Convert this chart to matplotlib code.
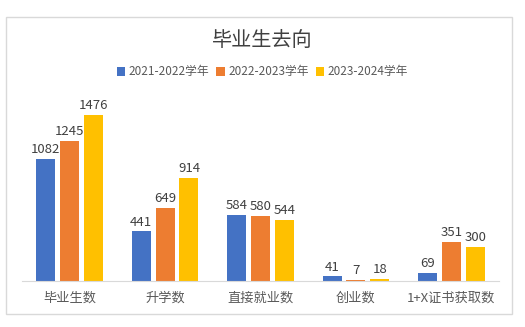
import numpy as np
import matplotlib
matplotlib.use("Agg")
import matplotlib.pyplot as plt
import matplotlib.patches as mpatches

plt.rcParams['font.family'] = ['Noto Sans CJK SC', 'DejaVu Sans']

categories = ["毕业生数", "升学数", "直接就业数", "创业数", "1+X证书获取数"]
series_names = ["2021-2022学年", "2022-2023学年", "2023-2024学年"]
y2021 = [1082, 441, 584, 41, 69]
y2022 = [1245, 649, 580, 7, 351]
y2023 = [1476, 914, 544, 18, 300]
colors = ["#4472C4", "#ED7D31", "#FFC000"]

W, H = 525, 327
fig = plt.figure(figsize=(W / 100, H / 100), dpi=100)
ax = fig.add_axes([22 / W, 1 - 281 / H, (499 - 22) / W, (281 - 101) / H])

# outer chart border
fig.patches.append(mpatches.Rectangle((6 / W, 1 - 314 / H), 506 / W, 297 / H,
                                      transform=fig.transFigure, fill=False,
                                      edgecolor="#D9D9D9", linewidth=1))

x = np.arange(len(categories))
width = 0.2
step = 0.25
for k, (vals, name) in enumerate(zip([y2021, y2022, y2023], series_names)):
    bars = ax.bar(x + (k - 1) * step, vals, width, color=colors[k], label=name)
    for b, v in zip(bars, vals):
        ax.text(b.get_x() + b.get_width() / 2, v + 25, str(v), ha="center",
                va="bottom", fontsize=9.5, color="#404040")

ax.set_xlim(-0.5, len(categories) - 0.5)
ax.set_ylim(0, 1600)
ax.set_yticks([])
ax.set_xticks(x)
ax.set_xticklabels(categories, fontsize=9.5, color="#595959")
ax.tick_params(axis="x", length=0, pad=8)
for s in ["top", "right", "left"]:
    ax.spines[s].set_visible(False)
ax.spines["bottom"].set_color("#D9D9D9")

fig.text(0.5, 1 - 40 / H, "毕业生去向", ha="center", va="center",
         fontsize=14.5, color="#404040")
fig.legend(loc="center", bbox_to_anchor=(0.5, 1 - 72 / H), ncol=3, frameon=False,
           fontsize=8.5, handlelength=0.7, handleheight=0.7, handletextpad=0.3,
           columnspacing=0.6, labelcolor="#595959")

fig.savefig("out.png", dpi=100)
